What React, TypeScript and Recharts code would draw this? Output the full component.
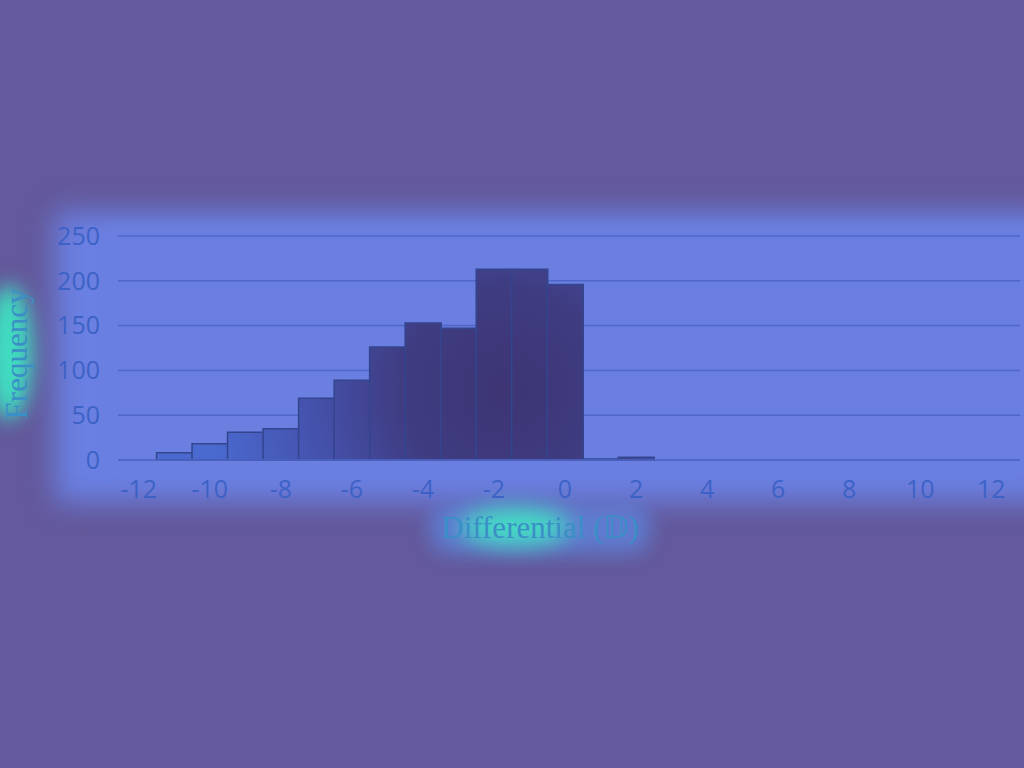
import React from "react";
import { BarChart, Bar, XAxis, YAxis, CartesianGrid } from "recharts";

const categories = ["-12", "-11", "-10", "-9", "-8", "-7", "-6", "-5", "-4", "-3", "-2", "-1", "0", "1", "2", "3", "4", "5", "6", "7", "8", "9", "10", "11", "12"];
const frequency = [0, 8, 18, 31, 35, 69, 89, 126, 153, 147, 213, 213, 196, 1, 3, 0, 0, 0, 0, 0, 0, 0, 0, 0, 0];
const yTicks = [0, 50, 100, 150, 200, 250];

const data = categories.map((c, i) => ({ bin: c, freq: frequency[i] }));

const tickStyle = { fontFamily: "'Open Sans', sans-serif", fontSize: 25, fill: "#3d62c6" };

export default function App() {
  return (
    <div style={{ position: "fixed", left: 0, top: 0, width: 1024, height: 768, background: "#63599c", overflow: "hidden" }}>
      <div style={{ position: "absolute", left: 55, top: 212, width: 1000, height: 290, background: "#6a80e2", filter: "blur(14px)" }} />
      <div style={{ position: "absolute", left: 105, top: 225, width: 930, height: 245, background: "#6b7fe0", filter: "blur(6px)" }} />
      <div style={{ position: "absolute", left: -14, top: 285, width: 46, height: 135, background: "#40dcc0", borderRadius: "50%", filter: "blur(10px)" }} />
      <div style={{ position: "absolute", left: 430, top: 505, width: 220, height: 48, background: "#5d8ae6", borderRadius: 20, filter: "blur(10px)", opacity: 0.7 }} />
      <div style={{ position: "absolute", left: 460, top: 508, width: 110, height: 38, background: "#44dcc4", borderRadius: "50%", filter: "blur(11px)" }} />
      <div style={{ position: "absolute", left: 0, top: 0 }}>
        <BarChart width={1024} height={768} data={data} barCategoryGap={0} margin={{ top: 236, right: 4, bottom: 278, left: 0 }}>
          <defs>
            <radialGradient id="barGrad" gradientUnits="userSpaceOnUse" cx={505} cy={390} r={300}>
              <stop offset="0%" stopColor="#3d3574" />
              <stop offset="35%" stopColor="#3f3c82" />
              <stop offset="65%" stopColor="#4552ac" />
              <stop offset="100%" stopColor="#4a6ad0" />
            </radialGradient>
          </defs>
          <CartesianGrid vertical={false} stroke="#4f66c8" strokeWidth={1.5} />
          <XAxis
            dataKey="bin"
            interval={1}
            height={30}
            padding={{ left: 3, right: 11 }}
            tickLine={false}
            tickSize={0}
            tickMargin={20}
            axisLine={{ stroke: "#4f66c8", strokeWidth: 1.5 }}
            tick={tickStyle}
          />
          <YAxis
            width={118}
            domain={[0, 250]}
            ticks={yTicks}
            axisLine={false}
            tickLine={false}
            tickSize={0}
            tickMargin={18}
            tick={tickStyle}
          />
          <Bar dataKey="freq" fill="url(#barGrad)" stroke="#33458f" strokeWidth={1.5} isAnimationActive={false} />
        </BarChart>
      </div>
      <div style={{ position: "absolute", left: 540, top: 527, transform: "translate(-50%, -50%)", fontFamily: "'Liberation Serif', serif", fontSize: 31, color: "#3a8fc6", whiteSpace: "nowrap" }}>
        Differential (𝔻)
      </div>
      <div style={{ position: "absolute", left: 17, top: 354, transform: "translate(-50%, -50%) rotate(-90deg)", fontFamily: "'Liberation Serif', serif", fontSize: 31, color: "#3a8fc6", whiteSpace: "nowrap" }}>
        Frequency
      </div>
    </div>
  );
}
